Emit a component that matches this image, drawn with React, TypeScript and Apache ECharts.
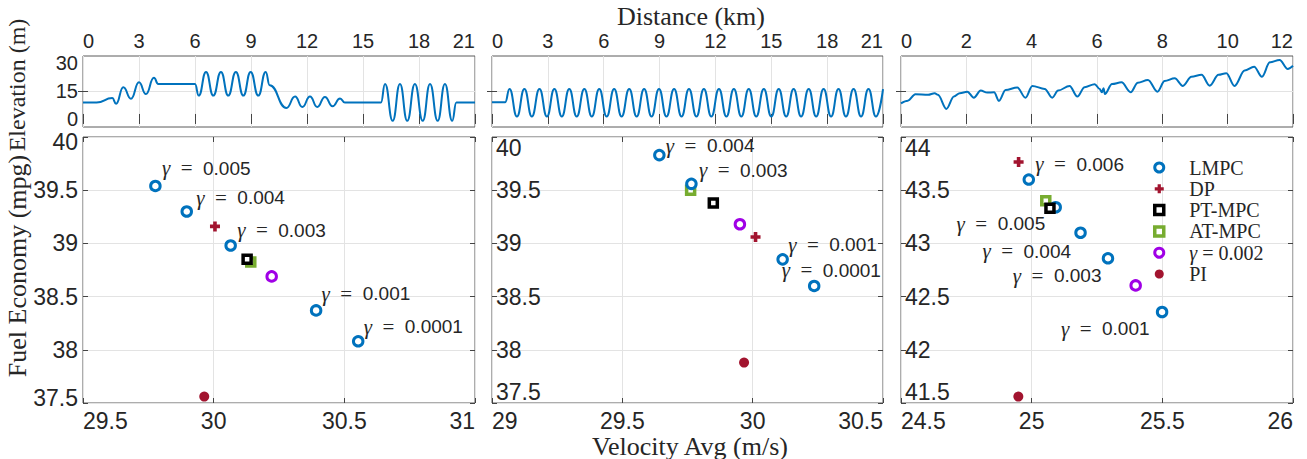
import React, { useEffect, useRef } from 'react';
import * as echarts from 'echarts';

// ---------- Elevation profiles (km, m) ----------
const elev1: number[][] = [
  [0, 8.8], [0.73, 8.8], [1.57, 11.2], [1.77, 8.2], [2.16, 17], [2.57, 10.8], [3.0, 19.6], [3.37, 13.3],
  [3.8, 22], [4.03, 18.7], [6.0, 18.7], [6.2, 12.5], [6.59, 25.2], [6.98, 12.5], [7.39, 25.2], [7.78, 12.5],
  [8.19, 25.2], [8.59, 12.5], [8.98, 25.2], [9.39, 12.5], [9.79, 25.2], [10.0, 18], [10.9, 5.9], [11.36, 12],
  [11.75, 6.4], [12.16, 12], [12.55, 6.4], [12.96, 11.8], [13.37, 6.8], [13.77, 11], [14.03, 8.8], [15.96, 8.8],
  [16.18, 18.7], [16.59, -1], [16.98, 18.7], [17.37, -1], [17.78, 18.7], [18.2, -1], [18.59, 18.7], [19.0, -1],
  [19.39, 18.7], [19.78, -1], [20.0, 8.8], [21, 8.8],
];
const elev2: number[][] = [
  [0, 9], [0.71, 9], [0.94, 16.1], [1.34, 1.3], [1.74, 16.1], [2.14, 1.3], [2.55, 16.1], [2.95, 1.3],
  [3.35, 16.1], [3.75, 1.3], [4.15, 16.1], [4.55, 1.3], [4.96, 16.1], [5.36, 1.3], [5.76, 16.1], [6.16, 1.3],
  [6.56, 16.1], [6.96, 1.3], [7.37, 16.1], [7.77, 1.3], [8.17, 16.1], [8.57, 1.3], [8.97, 16.1], [9.37, 1.3],
  [9.78, 16.1], [10.18, 1.3], [10.58, 16.1], [10.98, 1.3], [11.38, 16.1], [11.78, 1.3], [12.19, 16.1], [12.59, 1.3],
  [12.99, 16.1], [13.39, 1.3], [13.79, 16.1], [14.19, 1.3], [14.6, 16.1], [15.0, 1.3], [15.4, 16.1], [15.8, 1.3],
  [16.2, 16.1], [16.6, 1.3], [17.01, 16.1], [17.41, 1.3], [17.81, 16.1], [18.21, 1.3], [18.61, 16.1], [19.01, 1.3],
  [19.42, 16.1], [19.82, 1.3], [20.22, 16.1], [20.62, 1.3], [21.0, 16.0],
];
const elev3: number[][] = [
  [0, 8.4], [0.21, 9.8], [0.44, 13.2], [0.83, 12.9], [1.03, 13.8], [1.13, 12.9], [1.39, 5.4], [1.62, 12],
  [1.8, 13.8], [2.03, 14.6], [2.23, 11.4], [2.44, 15.2], [2.64, 14.1], [2.85, 14.3], [3.0, 9.7], [3.2, 15.5],
  [3.56, 16.8], [3.81, 11.4], [4.02, 17.7], [4.4, 16.1], [4.63, 11.4], [4.81, 15.2], [5.16, 17.7], [5.4, 12],
  [5.62, 17], [5.93, 18.6], [6.08, 16.1], [6.15, 14.3], [6.2, 16.4], [6.24, 13.4], [6.46, 18.7], [6.75, 19.6],
  [7.03, 14.3], [7.25, 19.4], [7.56, 20.9], [7.85, 14.6], [8.07, 20.3], [8.38, 21.8], [8.63, 17.7], [8.89, 22.6],
  [9.2, 23.6], [9.45, 17.8], [9.72, 23.6], [9.96, 24.5], [10.21, 17.7], [10.52, 25.9], [10.81, 28], [11.05, 22.6],
  [11.29, 30.3], [11.59, 31.6], [11.84, 26.8], [12.0, 28.5],
];

// ---------- Fuel economy vs. velocity (m/s, mpg) ----------
const p1LMPC = [[29.777, 39.54], [29.897, 39.3], [30.065, 38.98], [30.392, 38.37], [30.553, 38.08]];
const p1Gamma = ['0.005', '0.004', '0.003', '0.001', '0.0001'];
const p1DP = [[30.005, 39.16]];
const p1PT = [[30.128, 38.85]];
const p1AT = [[30.142, 38.825]];
const p1G2 = [[30.222, 38.69]];
const p1PI = [[29.964, 37.56]];

const p2LMPC = [[29.642, 39.83], [29.765, 39.56], [30.115, 38.85], [30.236, 38.6]];
const p2Gamma = ['0.004', '0.003', '0.001', '0.0001'];
const p2DP = [[30.011, 39.06]];
const p2PT = [[29.849, 39.38]];
const p2AT = [[29.762, 39.5]];
const p2G2 = [[29.951, 39.18]];
const p2PI = [[29.967, 37.88]];

const p3LMPC = [[24.989, 43.6], [25.092, 43.34], [25.187, 43.1], [25.292, 42.86], [25.499, 42.355]];
const p3Gamma = ['0.006', '0.005', '0.004', '0.003', '0.001'];
const p3DP = [[24.95, 43.765]];
const p3PT = [[25.07, 43.33]];
const p3AT = [[25.054, 43.4]];
const p3G2 = [[25.398, 42.605]];
const p3PI = [[24.949, 41.56]];

const legendNames = ['LMPC', 'DP', 'PT-MPC', 'AT-MPC', 'γ = 0.002', 'PI'];

// ---------- layout / style (not data) ----------
const FONT_SANS = '"Liberation Sans", Arial, sans-serif';
const FONT_SERIF = '"Liberation Serif", "Times New Roman", serif';
const TXT = '#262626';
const GRIDC = '#e3e3e3';
const FRAME = '#5a5a5a';
const TICKC = '#444';
const BLUE = '#0072BD';
const RED = '#A2142F';
const GREEN = '#77AC30';
const PURPLE = '#A000E6';
const PLUS = 'path://M3.2,0 H6.8 V3.2 H10 V6.8 H6.8 V10 H3.2 V6.8 H0 V3.2 H3.2 Z';
const SQUARE = 'path://M0,0 H10 V10 H0 Z';

const LEFTS = [83, 492, 901];
const WIDTHS = [392, 391, 392];
const TOP_T = 56, TOP_H = 71, BOT_T = 137, BOT_H = 266;

// label placement relative to the point: [dx, dy, align]
const p1LabelPos: [number, number, string][] = [[8, -16, 'left'], [11, -12, 'left'], [8, -14, 'left'], [7, -15, 'left'], [7, -13, 'left']];
const p2LabelPos: [number, number, string][] = [[8, -8, 'left'], [9, -12, 'left'], [7, -13, 'left'], [-31, -14, 'left']];
const p3LabelPos: [number, number, string][] = [[8, -14, 'left'], [-9, 18, 'right'], [-8, 20, 'right'], [-5, 19, 'right'], [-11, 18, 'right']];

function buildOption() {
  const grid: any[] = [];
  const xAxis: any[] = [];
  const yAxis: any[] = [];
  const series: any[] = [];

  const tick = { show: true, inside: true, length: 5, lineStyle: { color: TICKC, width: 1 } };

  const addGrid = (left: number, width: number, top: number, height: number) => {
    grid.push({ left, width, top, height, show: true, borderColor: FRAME, borderWidth: 1, backgroundColor: '#fff' });
    return grid.length - 1;
  };

  // ---- top elevation panels ----
  const topX = [
    { max: 21, interval: 3 },
    { max: 21, interval: 3 },
    { max: 12, interval: 2 },
  ];
  const elevData = [elev1, elev2, elev3];
  for (let i = 0; i < 3; i++) {
    const g = addGrid(LEFTS[i], WIDTHS[i], TOP_T, TOP_H);
    xAxis.push({
      gridIndex: g, type: 'value', position: 'top', min: 0, max: topX[i].max, interval: topX[i].interval,
      axisLine: { show: false }, axisTick: tick,
      axisLabel: { show: true, fontSize: 20, lineHeight: 18, color: TXT, fontFamily: FONT_SANS, margin: 6, showMinLabel: true, showMaxLabel: true, alignMinLabel: 'left', alignMaxLabel: 'right' },
      splitLine: { show: true, lineStyle: { color: GRIDC, width: 1 } },
    });
    const xi = xAxis.length - 1;
    xAxis.push({
      gridIndex: g, type: 'value', position: 'bottom', min: 0, max: topX[i].max, interval: topX[i].interval,
      axisLine: { show: false }, axisTick: tick, axisLabel: { show: false }, splitLine: { show: false },
    });
    yAxis.push({
      gridIndex: g, type: 'value', position: 'left', min: -4.3, max: 33.7,
      axisLine: { show: false },
      axisTick: { ...tick, customValues: [15] },
      axisLabel: { show: i === 0, customValues: [0, 15, 30], fontSize: 20, lineHeight: 16, color: TXT, fontFamily: FONT_SANS, margin: 5 },
      splitLine: { show: true, lineStyle: { color: GRIDC, width: 1 } },
    });
    const yi = yAxis.length - 1;
    yAxis.push({
      gridIndex: g, type: 'value', position: 'right', min: -4.3, max: 33.7,
      axisLine: { show: false }, axisTick: { ...tick, customValues: [15] },
      axisLabel: { show: false }, splitLine: { show: false },
    });
    series.push({
      type: 'line', name: 'elev' + i, xAxisIndex: xi, yAxisIndex: yi, data: elevData[i],
      showSymbol: false, symbol: 'none', smooth: i === 2 ? 0.35 : 0.5, smoothMonotone: 'x',
      lineStyle: { color: BLUE, width: 2 }, silent: true, z: 3,
    });
  }

  // ---- bottom fuel economy panels ----
  const botX = [
    { min: 29.5, max: 31 },
    { min: 29, max: 30.5 },
    { min: 24.5, max: 26 },
  ];
  const botY = [
    { min: 37.5, max: 40 },
    { min: 37.5, max: 40 },
    { min: 41.5, max: 44 },
  ];
  const panels = [
    { lmpc: p1LMPC, gamma: p1Gamma, pos: p1LabelPos, dp: p1DP, pt: p1PT, at: p1AT, g2: p1G2, pi: p1PI },
    { lmpc: p2LMPC, gamma: p2Gamma, pos: p2LabelPos, dp: p2DP, pt: p2PT, at: p2AT, g2: p2G2, pi: p2PI },
    { lmpc: p3LMPC, gamma: p3Gamma, pos: p3LabelPos, dp: p3DP, pt: p3PT, at: p3AT, g2: p3G2, pi: p3PI },
  ];
  const LM_SIZE = 9.5;
  for (let i = 0; i < 3; i++) {
    const g = addGrid(LEFTS[i], WIDTHS[i], BOT_T, BOT_H);
    xAxis.push({
      gridIndex: g, type: 'value', position: 'bottom', min: botX[i].min, max: botX[i].max, interval: 0.5,
      axisLine: { show: false }, axisTick: tick,
      axisLabel: { show: true, fontSize: 23, lineHeight: 20, color: TXT, fontFamily: FONT_SANS, margin: 8, showMinLabel: true, showMaxLabel: true, alignMinLabel: 'left', alignMaxLabel: 'right' },
      splitLine: { show: true, lineStyle: { color: GRIDC, width: 1 } },
    });
    const xi = xAxis.length - 1;
    xAxis.push({
      gridIndex: g, type: 'value', position: 'top', min: botX[i].min, max: botX[i].max, interval: 0.5,
      axisLine: { show: false }, axisTick: tick, axisLabel: { show: false }, splitLine: { show: false },
    });
    const inside = i > 0;
    yAxis.push({
      gridIndex: g, type: 'value', position: 'left', min: botY[i].min, max: botY[i].max, interval: 0.5,
      axisLine: { show: false }, axisTick: tick,
      axisLabel: {
        show: true, inside, fontSize: 23, lineHeight: inside ? 22 : 10, color: TXT, fontFamily: FONT_SANS, margin: inside ? 4 : 5,
        showMinLabel: true, showMaxLabel: true,
        verticalAlignMinLabel: 'bottom', verticalAlignMaxLabel: 'top',
      },
      splitLine: { show: true, lineStyle: { color: GRIDC, width: 1 } },
    });
    const yi = yAxis.length - 1;
    yAxis.push({
      gridIndex: g, type: 'value', position: 'right', min: botY[i].min, max: botY[i].max, interval: 0.5,
      axisLine: { show: false }, axisTick: tick, axisLabel: { show: false }, splitLine: { show: false },
    });

    const P = panels[i];
    const base = { type: 'scatter', xAxisIndex: xi, yAxisIndex: yi, silent: true };
    series.push({
      ...base, name: 'AT-MPC', data: P.at, symbol: SQUARE, symbolSize: 8,
      itemStyle: { color: '#fff', borderColor: GREEN, borderWidth: 3.5, opacity: 1 }, z: 2,
    });
    series.push({
      ...base, name: 'LMPC', symbol: 'circle', symbolSize: LM_SIZE,
      itemStyle: { color: '#fff', borderColor: BLUE, borderWidth: 3, opacity: 1 }, z: 3,
      data: P.lmpc.map((v, k) => ({
        value: v,
        label: {
          show: true,
          position: [LM_SIZE / 2 + P.pos[k][0], LM_SIZE / 2 + P.pos[k][1]],
          align: P.pos[k][2], verticalAlign: 'middle',
          formatter: '{g|γ}{e|  =  }{n|' + P.gamma[k] + '}',
          rich: {
            g: { fontFamily: FONT_SERIF, fontStyle: 'italic', fontSize: 21, color: TXT },
            e: { fontFamily: FONT_SERIF, fontSize: 21, color: TXT },
            n: { fontFamily: FONT_SANS, fontSize: 19, color: TXT },
          },
        },
      })),
    });
    series.push({
      ...base, name: 'PT-MPC', data: P.pt, symbol: SQUARE, symbolSize: 8,
      itemStyle: { color: '#fff', borderColor: '#000', borderWidth: 3.5, opacity: 1 }, z: 4,
    });
    series.push({
      ...base, name: 'DP', data: P.dp, symbol: PLUS, symbolSize: 10,
      itemStyle: { color: RED, opacity: 1 }, z: 4,
    });
    series.push({
      ...base, name: 'γ = 0.002', data: P.g2, symbol: 'circle', symbolSize: LM_SIZE,
      itemStyle: { color: '#fff', borderColor: PURPLE, borderWidth: 3, opacity: 1 }, z: 4,
    });
    series.push({
      ...base, name: 'PI', data: P.pi, symbol: 'circle', symbolSize: 10,
      itemStyle: { color: RED, opacity: 1 }, z: 4,
    });
  }

  const graphic: any[] = [
    { type: 'text', style: { text: 'Distance (km)', x: 691, y: 16, align: 'center', verticalAlign: 'middle', font: '26px ' + FONT_SERIF, fill: TXT } },
    { type: 'text', style: { text: 'Velocity Avg (m/s)', x: 690, y: 446, align: 'center', verticalAlign: 'middle', font: '26px ' + FONT_SERIF, fill: TXT } },
    { type: 'text', x: 17, y: 266, rotation: Math.PI / 2, style: { text: 'Fuel Economy (mpg)', x: 0, y: 0, align: 'center', verticalAlign: 'middle', font: '26px ' + FONT_SERIF, fill: TXT } },
    { type: 'text', x: 17, y: 85, rotation: Math.PI / 2, style: { text: 'Elevation (m)', x: 0, y: 0, align: 'center', verticalAlign: 'middle', font: '24px ' + FONT_SERIF, fill: TXT } },
  ];

  const legendStyles: Record<string, any> = {
    'LMPC': { color: '#fff', borderColor: BLUE, borderWidth: 3 },
    'DP': { color: RED, borderWidth: 0 },
    'PT-MPC': { color: '#fff', borderColor: '#000', borderWidth: 3.5 },
    'AT-MPC': { color: '#fff', borderColor: GREEN, borderWidth: 3.5 },
    'γ = 0.002': { color: '#fff', borderColor: PURPLE, borderWidth: 3 },
    'PI': { color: RED, borderWidth: 0 },
  };

  return {
    animation: false,
    backgroundColor: '#fff',
    grid,
    xAxis,
    yAxis,
    series,
    graphic,
    legend: {
      show: true,
      data: legendNames.map((n) => ({ name: n, itemStyle: legendStyles[n] })),
      orient: 'vertical',
      left: 1148,
      top: 152,
      itemWidth: 50,
      itemHeight: 9,
      itemGap: 0.3,
      symbolKeepAspect: true,
      selectedMode: false,
      formatter: (name: string) => (name === 'γ = 0.002' ? '{g|γ} = 0.002' : name),
      textStyle: {
        fontFamily: FONT_SERIF, fontSize: 20, color: TXT, lineHeight: 21,
        rich: { g: { fontFamily: FONT_SERIF, fontStyle: 'italic', fontSize: 20, color: TXT, lineHeight: 21 } },
      },
    },
  };
}

export default function App() {
  const ref = useRef<HTMLDivElement>(null);
  useEffect(() => {
    if (!ref.current) return;
    const chart = echarts.init(ref.current, undefined, { renderer: 'svg' });
    chart.setOption(buildOption() as any);
    return () => chart.dispose();
  }, []);
  return <div ref={ref} style={{ position: 'fixed', left: 0, top: 0, width: 1307, height: 459 }} />;
}
